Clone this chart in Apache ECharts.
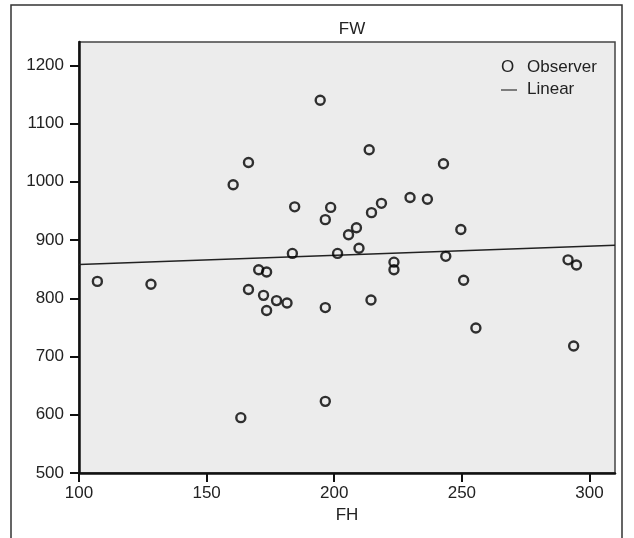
<!DOCTYPE html>
<html>
<head>
<meta charset="utf-8">
<script src="https://cdn.jsdelivr.net/npm/echarts@6/dist/echarts.min.js"></script>
<style>
  html, body { margin: 0; padding: 0; background: #fff; }
  #main { width: 634px; height: 538px; }
</style>
</head>
<body>
<div id="main"></div>
<script>
// observed points (FH, FW)
var fh = [194.5, 166.4, 160.4, 184.5, 198.6, 196.5, 183.6, 201.3, 213.7, 242.8,
          229.7, 236.5, 218.5, 214.6, 208.7, 205.6, 249.6, 209.7, 223.4, 223.4,
          243.7, 291.6, 294.9, 250.7, 214.4, 255.5, 293.8, 107.2, 128.2, 170.4,
          173.5, 166.4, 172.3, 177.4, 181.5, 173.5, 196.5, 163.4, 196.5];
var fw = [1140, 1033, 995, 957, 956, 935, 877, 877, 1055, 1031,
          973, 970, 963, 947, 921, 909, 918, 886, 862, 849,
          872, 866, 857, 831, 797, 749, 718, 829, 824, 849,
          845, 815, 805, 796, 792, 779, 784, 595, 623];
// linear fit, read at both ends of the x axis
var lineX = [100, 310];
var lineY = [858, 891];
var xTicks = [100, 150, 200, 250, 300];
var yTicks = [500, 600, 700, 800, 900, 1000, 1100, 1200];

var font = 'Liberation Sans, Arial, sans-serif';

var points = fh.map(function (v, i) { return [v, fw[i]]; });
var fitLine = lineX.map(function (v, i) { return [v, lineY[i]]; });

var chart = echarts.init(document.getElementById('main'));
chart.setOption({
    animation: false,
    textStyle: { fontFamily: font },
    title: {
        text: 'FW',
        left: 347,
        top: 16,
        textAlign: 'center',
        textStyle: { fontSize: 17, fontWeight: 'normal', color: '#222', fontFamily: font }
    },
    grid: {
        left: 79, right: 19, top: 42, bottom: 65,
        show: true,
        backgroundColor: '#ececec',
        borderColor: '#444',
        borderWidth: 1.5
    },
    xAxis: {
        type: 'value',
        min: 100, max: 310,
        name: 'FH',
        nameLocation: 'middle',
        nameGap: 34,
        nameTextStyle: { fontSize: 17, color: '#222' },
        axisLine: { lineStyle: { color: '#111', width: 2.5 } },
        axisTick: { length: 9, customValues: xTicks, lineStyle: { color: '#111', width: 2 } },
        axisLabel: { fontSize: 17, color: '#222', margin: 12, customValues: xTicks,
                     formatter: function (v) { return String(v); } },
        splitLine: { show: false }
    },
    yAxis: {
        type: 'value',
        min: 500, max: 1240,
        axisLine: { show: true, lineStyle: { color: '#111', width: 2.5 } },
        axisTick: { show: true, length: 9, customValues: yTicks, lineStyle: { color: '#111', width: 2 } },
        axisLabel: { fontSize: 17, color: '#222', margin: 15, customValues: yTicks,
                     formatter: function (v) { return String(v); } },
        splitLine: { show: false }
    },
    series: [{
        name: 'Linear',
        type: 'line',
        data: fitLine,
        symbol: 'none',
        lineStyle: { color: '#222', width: 1.3 },
        z: 2
    }, {
        name: 'Observer',
        type: 'scatter',
        data: points,
        symbol: 'circle',
        symbolSize: 9,
        itemStyle: { color: 'rgba(0,0,0,0)', borderColor: '#000', borderWidth: 2.4 },
        z: 3
    }],
    graphic: [{
        type: 'rect',
        shape: { x: 11, y: 5, width: 611, height: 560 },
        style: { fill: 'none', stroke: '#333', lineWidth: 1.5 },
        silent: true, z: -10
    }, {
        type: 'text', x: 501, y: 67,
        style: { text: 'O', font: '17px ' + font, fill: '#222', textVerticalAlign: 'middle' }
    }, {
        type: 'text', x: 527, y: 67,
        style: { text: 'Observer', font: '17px ' + font, fill: '#222', textVerticalAlign: 'middle' }
    }, {
        type: 'line',
        shape: { x1: 501, y1: 90, x2: 517, y2: 90 },
        style: { stroke: '#333', lineWidth: 1.2 }
    }, {
        type: 'text', x: 527, y: 89,
        style: { text: 'Linear', font: '17px ' + font, fill: '#222', textVerticalAlign: 'middle' }
    }]
});
</script>
</body>
</html>
